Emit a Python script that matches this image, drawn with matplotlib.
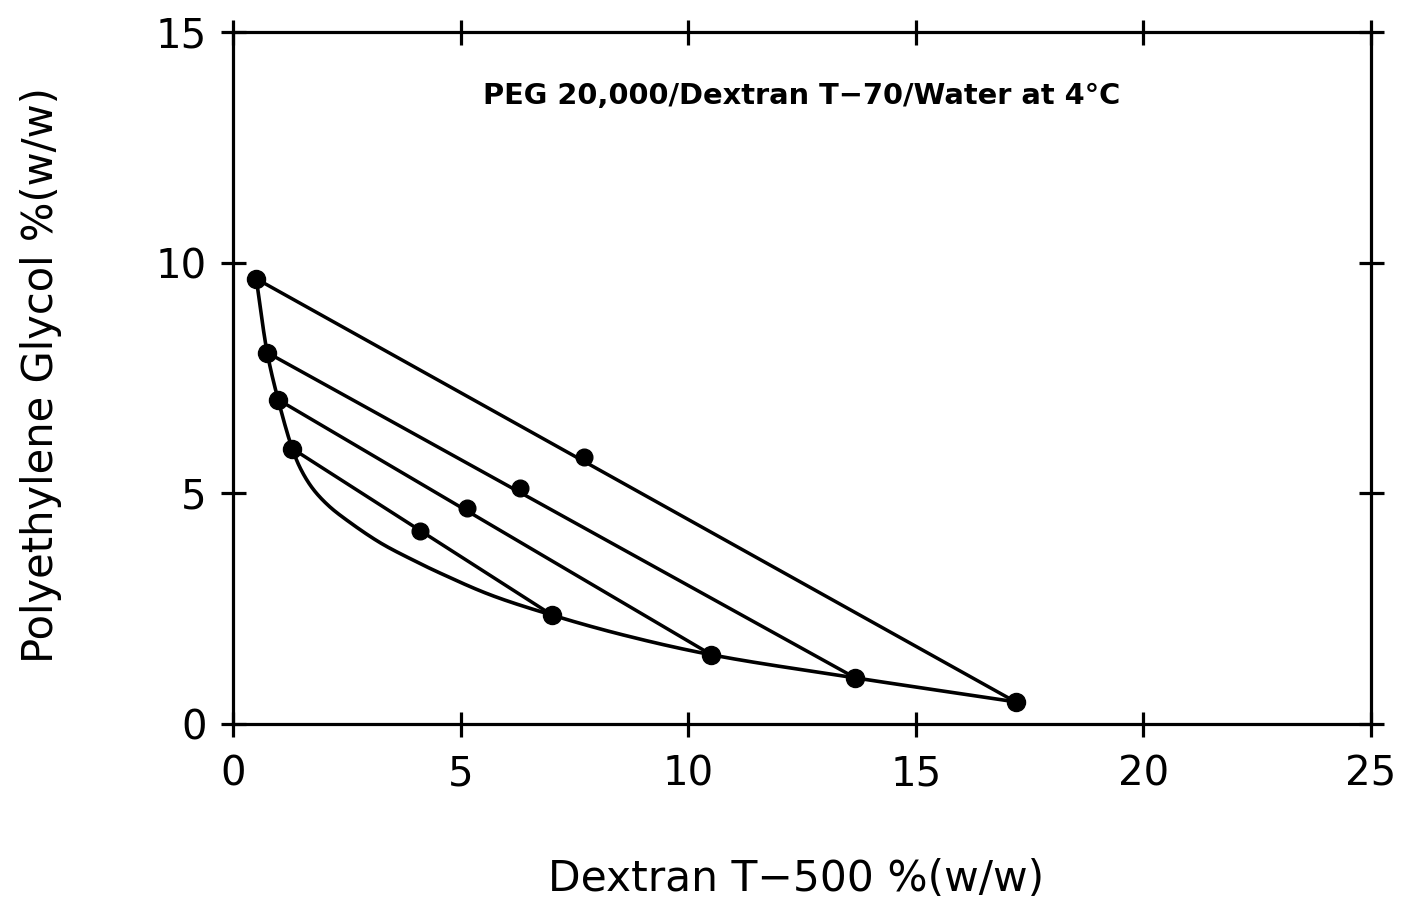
import numpy as np
import matplotlib
matplotlib.use("Agg")
import matplotlib.pyplot as plt

plt.rcParams["font.family"] = ["DejaVu Sans"]

# binodal curve, read along the boundary (% w/w)
binodal_dextran = [0.51, 0.75, 0.99, 1.30, 1.50, 1.76, 2.10, 2.51, 3.23, 3.96, 4.55, 5.65, 7.01, 8.57, 10.51, 13.67, 17.19]
binodal_peg = [9.65, 8.05, 7.03, 5.97, 5.50, 5.09, 4.73, 4.41, 3.93, 3.55, 3.27, 2.80, 2.36, 1.93, 1.50, 1.00, 0.48]

# tie lines: top phase, total composition, bottom phase
top_dextran = [0.51, 0.75, 0.99, 1.30]
top_peg = [9.65, 8.05, 7.03, 5.97]
mix_dextran = [7.71, 6.31, 5.14, 4.11]
mix_peg = [5.79, 5.12, 4.69, 4.19]
bottom_dextran = [17.19, 13.67, 10.51, 7.01]
bottom_peg = [0.48, 1.00, 1.50, 2.36]

x_ticks = [0, 5, 10, 15, 20, 25]
y_ticks = [0, 5, 10, 15]


def catmull_rom(xs, ys, n=30):
    """Smooth path through the points (centripetal Catmull-Rom)."""
    pts = np.column_stack([xs, ys]).astype(float)
    pts = np.vstack([2 * pts[0] - pts[1], pts, 2 * pts[-1] - pts[-2]])
    out = []
    for i in range(1, len(pts) - 2):
        p0, p1, p2, p3 = pts[i - 1], pts[i], pts[i + 1], pts[i + 2]
        t0 = 0.0
        t1 = t0 + np.linalg.norm(p1 - p0) ** 0.5
        t2 = t1 + np.linalg.norm(p2 - p1) ** 0.5
        t3 = t2 + np.linalg.norm(p3 - p2) ** 0.5
        t = np.linspace(t1, t2, n)[:, None]
        a1 = (t1 - t) / (t1 - t0) * p0 + (t - t0) / (t1 - t0) * p1
        a2 = (t2 - t) / (t2 - t1) * p1 + (t - t1) / (t2 - t1) * p2
        a3 = (t3 - t) / (t3 - t2) * p2 + (t - t2) / (t3 - t2) * p3
        b1 = (t2 - t) / (t2 - t0) * a1 + (t - t0) / (t2 - t0) * a2
        b2 = (t3 - t) / (t3 - t1) * a2 + (t - t1) / (t3 - t1) * a3
        c = (t2 - t) / (t2 - t1) * b1 + (t - t1) / (t2 - t1) * b2
        out.append(c if i == 1 else c[1:])
    path = np.vstack(out)
    return path[:, 0], path[:, 1]


fig = plt.figure(figsize=(14.04, 9.06), dpi=100)
ax = fig.add_axes([0.166, 0.2009, 0.8105, 0.7638])

bx, by = catmull_rom(binodal_dextran, binodal_peg)
ax.plot(bx, by, color="black", lw=2.6, solid_capstyle="round")

for i in range(len(top_dextran)):
    ax.plot([top_dextran[i], bottom_dextran[i]], [top_peg[i], bottom_peg[i]],
            color="black", lw=2.5)

ax.plot(top_dextran, top_peg, "o", color="black", ms=13)
ax.plot(mix_dextran, mix_peg, "o", color="black", ms=12)
ax.plot(bottom_dextran, bottom_peg, "o", color="black", ms=13)

ax.set_xlim(0, 25)
ax.set_ylim(0, 15)
ax.set_xticks(x_ticks)
ax.set_yticks(y_ticks)
for s in ax.spines.values():
    s.set_linewidth(2.3)

ax.tick_params(direction="inout", length=18, width=2.3, labelsize=29,
               top=True, right=True, labeltop=False, labelright=False)
ax.tick_params(axis="x", pad=13)
ax.tick_params(axis="y", pad=10)

ax.text(12.5, 13.62, "PEG 20,000/Dextran T\u221270/Water at 4\u00b0C",
        ha="center", va="center", fontsize=20.8, fontweight="bold")

ax.set_xlabel("Dextran T\u2212500 %(w/w)", fontsize=30.5)
ax.set_ylabel("Polyethylene Glycol %(w/w)", fontsize=30)
ax.xaxis.set_label_coords(0.495, -0.194)
ax.yaxis.set_label_coords(-0.150, 0.504)

fig.savefig("out.png", dpi=100)
